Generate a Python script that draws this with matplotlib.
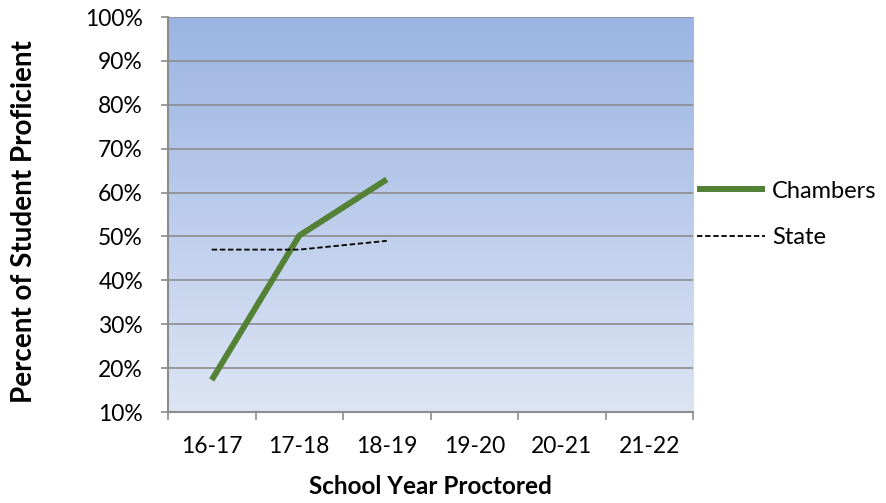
import numpy as np
import matplotlib.pyplot as plt
from matplotlib.colors import LinearSegmentedColormap

# school years and proficiency values (percent)
years = ['16-17', '17-18', '18-19', '19-20', '20-21', '21-22']
chambers = [17.3, 50.2, 63.0]
state = [47.0, 47.0, 49.0]

plt.rcParams['font.family'] = ['Lato', 'DejaVu Sans']

fig = plt.figure(figsize=(8.87, 5.03), dpi=100)
ax = fig.add_axes([0.1894, 0.1809, 0.5919, 0.7853])

# gradient background for the plot area
grad = LinearSegmentedColormap.from_list('bg', ['#dde5f4', '#9bb4e3'])
ax.imshow(np.linspace(0, 1, 256).reshape(-1, 1), cmap=grad, aspect='auto',
          origin='lower', extent=[0, 1, 0, 1], transform=ax.transAxes, zorder=0)

x = np.arange(len(years))
ax.set_xlim(-0.5, len(years) - 0.5)
ax.set_ylim(10, 100)

for yv in range(20, 101, 10):
    ax.axhline(yv, color='#8c8c8c', lw=1.2, zorder=1)

ax.plot(x[:len(chambers)], chambers, color='#538135', lw=4.3,
        solid_capstyle='butt', label='Chambers', zorder=3)
ax.plot(x[:len(state)], state, color='black', lw=1.3, ls=(0, (3, 1.5)),
        label='State', zorder=4)

ax.set_yticks(range(10, 101, 10))
ax.set_yticklabels([f'{v}%' for v in range(10, 101, 10)], fontsize=16.5)
ax.set_xticks(x)
ax.set_xticklabels(years, fontsize=16.5)
ax.set_xticks(np.arange(-0.5, len(years), 1.0), minor=True)
ax.tick_params(axis='x', which='major', length=0, pad=17)
ax.tick_params(axis='x', which='minor', length=6, color='#8c8c8c', width=1.2)
ax.tick_params(axis='y', length=5, color='#8c8c8c', width=1.2, pad=13)

for side in ['top', 'right']:
    ax.spines[side].set_visible(False)
ax.spines['left'].set_color('#8c8c8c')
ax.spines['left'].set_linewidth(1.5)
ax.spines['bottom'].set_color('#8c8c8c')
ax.spines['bottom'].set_linewidth(1.5)

fig.text(24 / 887, 1 - 222 / 503, 'Percent of Student Proficient', rotation=90,
         ha='center', va='center', fontsize=20, fontweight='bold')
fig.text(430 / 887, 1 - 487 / 503, 'School Year Proctored',
         ha='center', va='center', fontsize=17.5, fontweight='bold')

ax.legend(loc='center left', bbox_to_anchor=(1.007, 0.50), frameon=False,
          fontsize=17, handlelength=2.9, handletextpad=0.3, labelspacing=1.1,
          borderpad=0, borderaxespad=0)

fig.savefig('out.png', dpi=100)
